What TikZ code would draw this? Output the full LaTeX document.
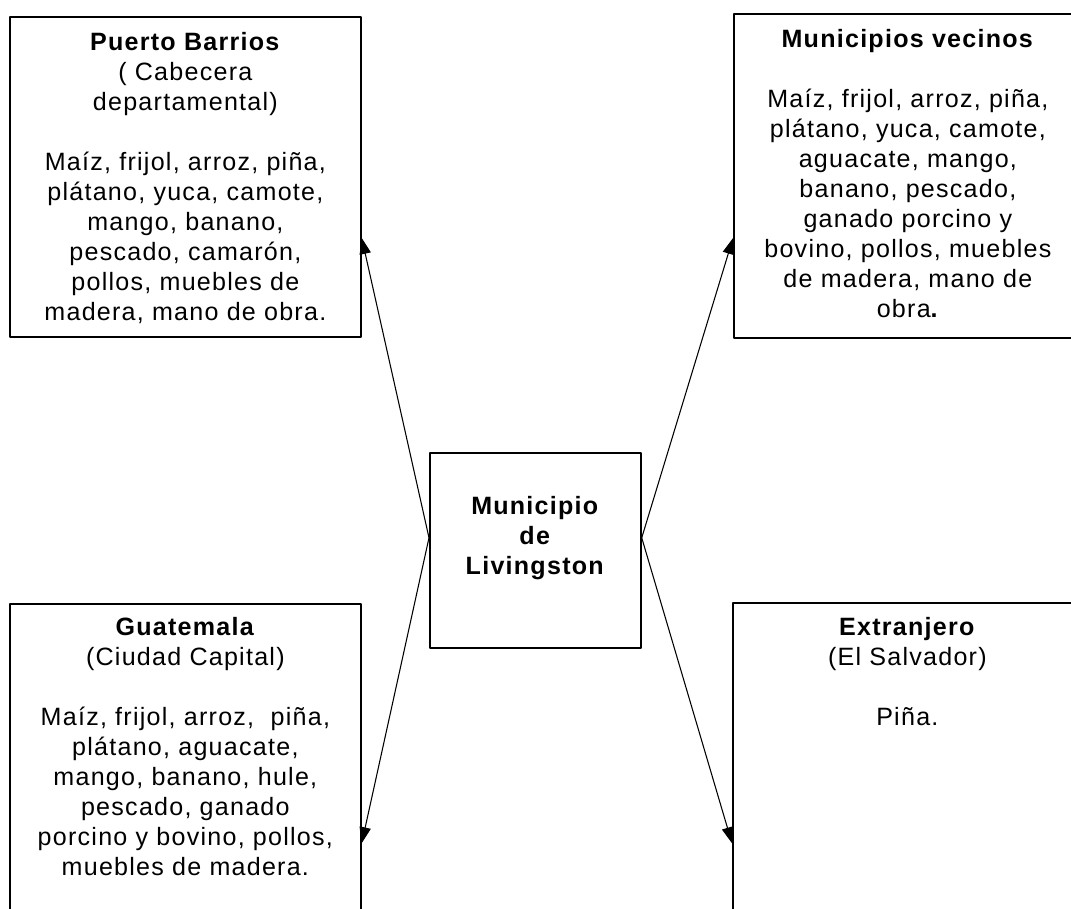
\documentclass[tikz,border=0pt]{standalone}
\usepackage{fontspec}
\setmainfont{Liberation Sans}[LetterSpace=5]
\usetikzlibrary{arrows.meta,calc}
\tikzset{caja/.style={draw, line width=1.3pt, inner sep=0pt, anchor=north west}}
\newcommand{\contenido}[4]{\parbox[t][#2][t]{#1}{\centering\rule{0pt}{#3}#4}}

\begin{document}
\begin{tikzpicture}[x=0.75pt, y=-0.75pt, font=\fontsize{18.8}{22.5}\selectfont, line join=round, line cap=round, >={Triangle[length=12pt,width=8.5pt]}]
	\clip (0,0) rectangle (1071,908);
	% recuadros
	\node[caja] (pb) at (9,16) {\contenido{263.25pt}{240pt}{25pt}{\textbf{Puerto Barrios}\\( Cabecera\\departamental)\\[22.5pt]Maíz, frijol, arroz, piña,\\plátano, yuca, camote,\\mango, banano,\\pescado, camarón,\\pollos, muebles de\\madera, mano de obra.}};
	\node[caja] (mv) at (733,13) {\contenido{261pt}{243pt}{25pt}{\textbf{Municipios vecinos}\\[22.5pt]Maíz, frijol, arroz, piña,\\plátano, yuca, camote,\\aguacate, mango,\\banano, pescado,\\ganado porcino y\\bovino, pollos, muebles\\de madera, mano de\\obra\textbf{.}}};
	\node[caja] (lv) at (429,452) {\contenido{158.25pt}{146.25pt}{46.5pt}{\textbf{Municipio}\\\textbf{de}\\\textbf{Livingston}}};
	\node[caja] (gt) at (9,603) {\contenido{263.25pt}{252.75pt}{24pt}{\textbf{Guatemala}\\(Ciudad Capital)\\[22.5pt]Maíz, frijol, arroz,\ \ piña,\\plátano, aguacate,\\mango, banano, hule,\\pescado, ganado\\porcino y bovino, pollos,\\muebles de madera.}};
	\node[caja] (ex) at (732,602) {\contenido{261.75pt}{253.5pt}{24.75pt}{\textbf{Extranjero}\\(El Salvador)\\[22.5pt]Piña.}};
	% flechas
	\begin{scope}[line width=0.8pt]
		\draw[->] ($(lv.north west)!0.436!(lv.south west)$) -- ($(pb.north east)!0.69!(pb.south east)$);
		\draw[->] ($(lv.north east)!0.436!(lv.south east)$) -- ($(mv.north west)!0.691!(mv.south west)$);
		\draw[->] ($(lv.north west)!0.436!(lv.south west)$) -- ($(gt.north east)!0.709!(gt.south east)$);
		\draw[->] ($(lv.north east)!0.436!(lv.south east)$) -- ($(ex.north west)!0.71!(ex.south west)$);
	\end{scope}
\end{tikzpicture}
\end{document}
